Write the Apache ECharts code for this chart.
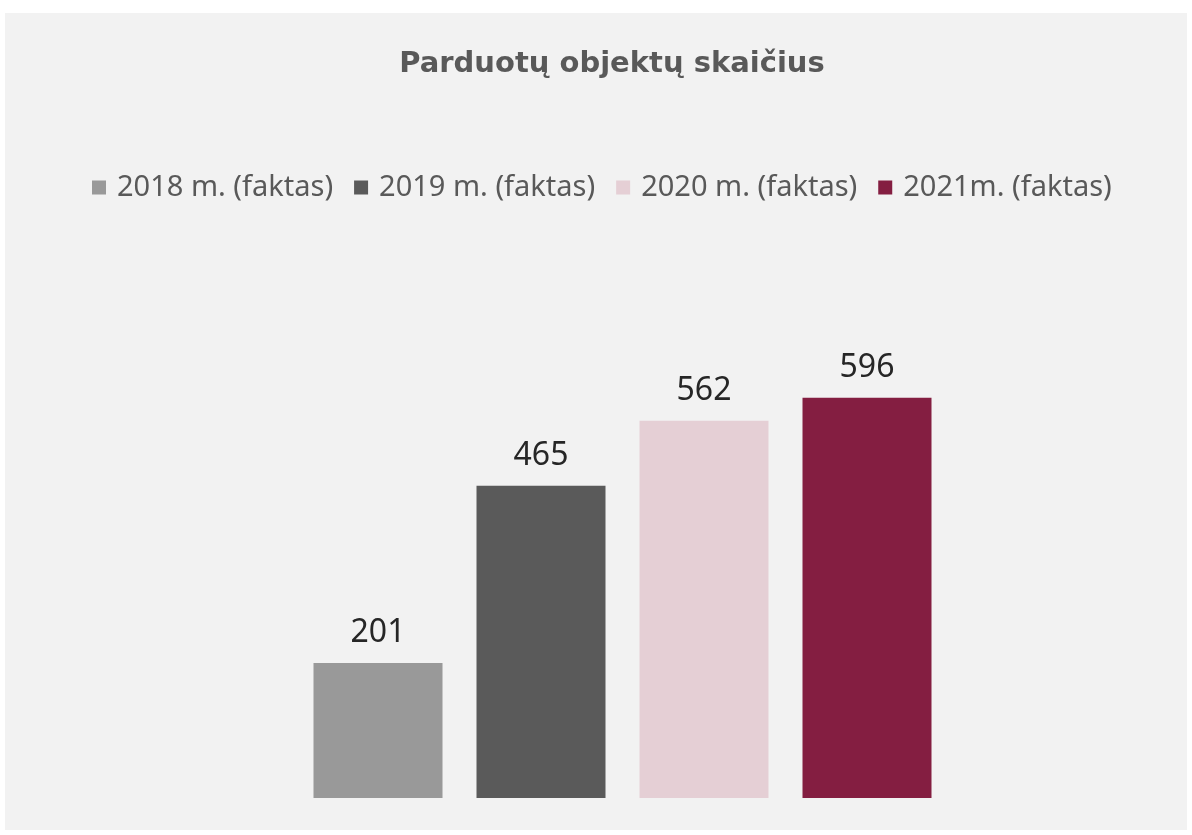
<!DOCTYPE html>
<html><head><meta charset="utf-8">
<script src="https://cdn.jsdelivr.net/npm/echarts@6/dist/echarts.min.js"></script>
<style>html,body{margin:0;padding:0;background:#fff}#c{width:1192px;height:835px}</style>
</head><body><div id="c"></div>
<script>
const titleText = 'Parduotų objektų skaičius';
const categories = ['Parduoti objektai'];
const seriesNames = ['2018 m. (faktas)', '2019 m. (faktas)', '2020 m. (faktas)', '2021m. (faktas)'];
const values2018 = [201];
const values2019 = [465];
const values2020 = [562];
const values2021 = [596];
const colors = ['#999999', '#5a5a5a', '#e5cfd5', '#841e41'];
const allValues = [values2018, values2019, values2020, values2021];
const FONT = 'Noto Sans';
const chart = echarts.init(document.getElementById('c'));
chart.setOption({
  backgroundColor: '#ffffff',
  animation: false,
  graphic: [{type:'rect', shape:{x:5,y:13,width:1182,height:817}, style:{fill:'#f2f2f2'}, z:-10}],
  title: {text: titleText, left: 612, textAlign:'center', top: 50, padding:0, textStyle:{fontFamily:'DejaVu Sans', fontWeight:'bold', fontSize:29, color:'#595959'}},
  legend: {left: 92, top: 173, padding:0, itemWidth: 14, itemHeight: 14, itemGap: 21, icon: 'rect',
    textStyle:{fontFamily:FONT, fontSize:29, color:'#595959', padding:[0,0,0,6]}, data: seriesNames},
  grid: {left: 100, right: 47, top: 328, bottom: 37},
  xAxis: {type:'category', data: categories, show:false},
  yAxis: {type:'value', min:0, max:700, show:false},
  series: seriesNames.map((n,i)=>({
    name:n, type:'bar', data: allValues[i], barWidth:129, barGap:'26.36%',
    itemStyle:{color:colors[i]},
    label:{show:true, position:'top', distance:14, fontFamily:FONT, fontSize:32, color:'#262626'}
  }))
});
</script></body></html>
